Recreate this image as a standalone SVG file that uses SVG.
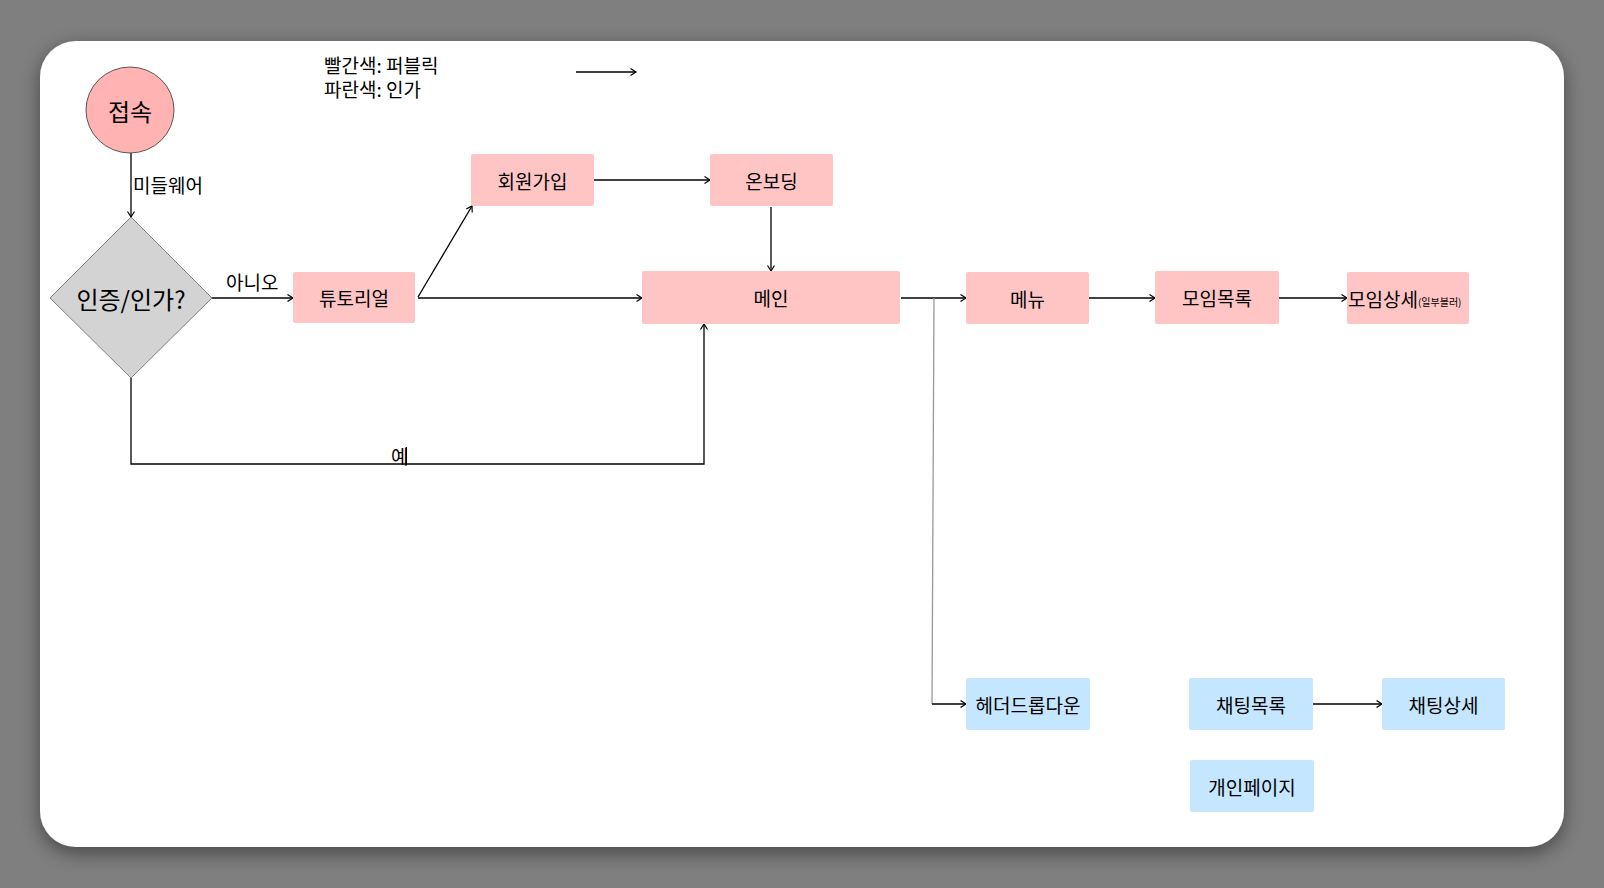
<svg xmlns="http://www.w3.org/2000/svg" width="1604" height="888" viewBox="0 0 1604 888">
<defs>
<marker id="ah" markerWidth="8" markerHeight="10" refX="6.5" refY="4" orient="auto" markerUnits="userSpaceOnUse">
<path d="M1,0.5 L6.5,4 L1,7.5" fill="none" stroke="#000" stroke-width="1.2"/>
</marker>
<filter id="sh" x="-5%" y="-5%" width="110%" height="115%">
<feDropShadow dx="0" dy="6" stdDeviation="10" flood-color="#000" flood-opacity="0.45"/>
</filter>
</defs>
<style>
text{font-family:"Noto Sans CJK KR","Noto Sans",sans-serif;fill:#000;dominant-baseline:central;text-anchor:middle}
.pk{fill:#ffc5c5}
.bl{fill:#c5e6ff}
.t{font-size:19px}
.ln{fill:none;stroke:#000;stroke-width:1.3}
.lbl{font-size:19px;text-anchor:start}
.lg{font-size:19px;text-anchor:start}
</style>
<rect x="0" y="0" width="1604" height="888" fill="#7f7f7f"/>
<rect x="40" y="41" width="1524" height="806" rx="36" fill="#fff" filter="url(#sh)"/>

<g id="legend">
<text class="lg" x="324" y="64">빨간색: 퍼블릭</text>
<text class="lg" x="324" y="88.5">파란색: 인가</text>
<line class="ln" x1="576" y1="72" x2="636" y2="72" marker-end="url(#ah)"/>
</g>

<g id="connectors">
<line class="ln" x1="131" y1="153" x2="131" y2="217" marker-end="url(#ah)"/>
<text class="lbl" x="133" y="184">미들웨어</text>
<line class="ln" x1="212" y1="298" x2="293" y2="298" marker-end="url(#ah)"/>
<text class="lbl" x="226" y="281">아니오</text>
<line class="ln" x1="418" y1="297" x2="472" y2="206" marker-end="url(#ah)"/>
<line class="ln" x1="418" y1="298" x2="642" y2="298" marker-end="url(#ah)"/>
<line class="ln" x1="594" y1="180" x2="710" y2="180" marker-end="url(#ah)"/>
<line class="ln" x1="771" y1="207" x2="771" y2="271" marker-end="url(#ah)"/>
<polyline class="ln" points="131,378 131,464 704,464 704,324" marker-end="url(#ah)"/>
<text class="lbl" x="391" y="455">예</text>
<line x1="406.5" y1="447" x2="406.5" y2="465" stroke="#000" stroke-width="1"/>
<line class="ln" x1="901" y1="298" x2="966" y2="298" marker-end="url(#ah)"/>
<line x1="934" y1="298" x2="932" y2="704" stroke="#999" stroke-width="1.3"/>
<line class="ln" x1="932" y1="704" x2="966" y2="704" marker-end="url(#ah)"/>
<line class="ln" x1="1089" y1="298" x2="1155" y2="298" marker-end="url(#ah)"/>
<line class="ln" x1="1279" y1="298" x2="1347" y2="298" marker-end="url(#ah)"/>
<line class="ln" x1="1313" y1="704" x2="1382" y2="704" marker-end="url(#ah)"/>
</g>

<g id="n-start">
<ellipse cx="130" cy="110" rx="44" ry="43" fill="#ffb3b3" stroke="#333" stroke-width="0.8"/>
<text x="130" y="110" style="font-size:24px">접속</text>
</g>
<g id="n-auth">
<polygon points="131,217 212,298 131,378 50,298" fill="#d3d3d3" stroke="#666" stroke-width="0.8"/>
<text x="131" y="298" style="font-size:24px">인증/인가?</text>
</g>
<g id="n-tutorial">
<rect class="pk" x="293" y="272" width="122" height="51" rx="2"/>
<text class="t" x="354" y="297.5">튜토리얼</text>
</g>
<g id="n-signup">
<rect class="pk" x="471" y="154" width="123" height="52" rx="2"/>
<text class="t" x="532.5" y="180">회원가입</text>
</g>
<g id="n-onboarding">
<rect class="pk" x="710" y="154" width="123" height="52" rx="2"/>
<text class="t" x="771.5" y="180">온보딩</text>
</g>
<g id="n-main">
<rect class="pk" x="642" y="271" width="258" height="53" rx="2"/>
<text class="t" x="771" y="297.5">메인</text>
</g>
<g id="n-menu">
<rect class="pk" x="966" y="272" width="123" height="52" rx="2"/>
<text class="t" x="1027.5" y="298">메뉴</text>
</g>
<g id="n-meetlist">
<rect class="pk" x="1155" y="271" width="124" height="53" rx="2"/>
<text class="t" x="1217" y="297.5">모임목록</text>
</g>
<g id="n-meetdetail">
<rect class="pk" x="1347" y="272" width="122" height="52" rx="2"/>
<text class="t" x="1348" y="298" style="text-anchor:start">모임상세<tspan style="font-size:10px" dy="3">(일부블러)</tspan></text>
</g>
<g id="n-header">
<rect class="bl" x="966" y="678" width="124" height="52" rx="2"/>
<text class="t" x="1028" y="704">헤더드롭다운</text>
</g>
<g id="n-chatlist">
<rect class="bl" x="1189" y="678" width="124" height="52" rx="2"/>
<text class="t" x="1251" y="704">채팅목록</text>
</g>
<g id="n-chatdetail">
<rect class="bl" x="1382" y="678" width="123" height="52" rx="2"/>
<text class="t" x="1443.5" y="704">채팅상세</text>
</g>
<g id="n-mypage">
<rect class="bl" x="1190" y="760" width="124" height="52" rx="2"/>
<text class="t" x="1252" y="786">개인페이지</text>
</g>
</svg>
